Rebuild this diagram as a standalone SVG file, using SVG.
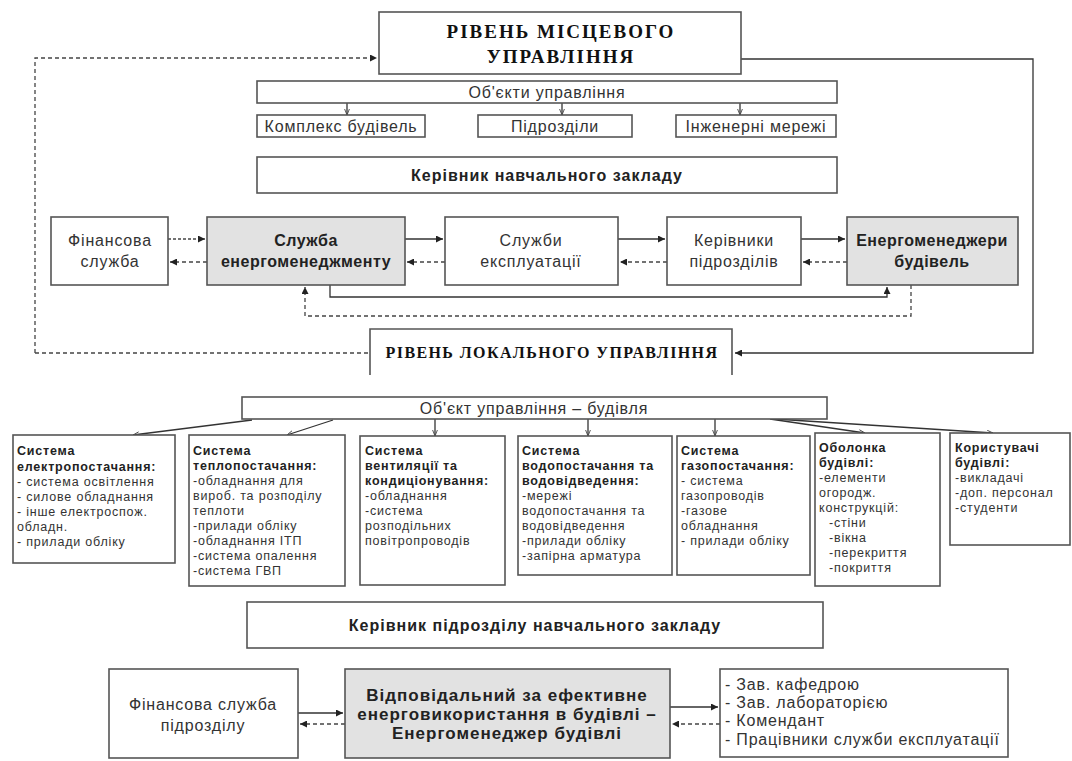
<svg xmlns="http://www.w3.org/2000/svg" width="1072" height="761" viewBox="0 0 1072 761">
<defs>
<marker id="ah" viewBox="0 0 10 10" refX="10" refY="5" markerWidth="9" markerHeight="7" markerUnits="userSpaceOnUse" orient="auto"><path d="M0,0 L10,5 L0,10 z" fill="#222"/></marker>
<marker id="as" viewBox="0 0 10 10" refX="10" refY="5" markerWidth="7" markerHeight="6" markerUnits="userSpaceOnUse" orient="auto"><path d="M0,1 L10,5 L0,9" fill="none" stroke="#444" stroke-width="1.5"/></marker>
<style>
rect{fill:#fff;stroke:#555;stroke-width:1.6}
rect.g{fill:#e2e2e2}
rect.bg{fill:#fff;stroke:none}
.ser{font-family:"Liberation Serif",serif;font-weight:bold;fill:#111}
.s{font-family:"Liberation Sans",Arial,sans-serif;fill:#333}
.b{font-weight:bold;fill:#222}
.c{text-anchor:middle}
.ln{fill:none;stroke:#333;stroke-width:1.3}
.dl{fill:none;stroke:#444;stroke-width:1.3;stroke-dasharray:4,3}
.t{font-size:16px;letter-spacing:0.8px}
.tb{font-size:16px;letter-spacing:1px;font-weight:bold;fill:#222}
.tm{font-size:16px;letter-spacing:0.5px;font-weight:bold;fill:#222}
.tl{font-size:17px;letter-spacing:1px;font-weight:bold;fill:#222}
.sys{font-size:12.5px;letter-spacing:0.8px}
</style>
</defs>
<rect class="bg" width="1072" height="761"/>

<g id="connectors">
<path class="dl" d="M35,353 L35,58 L377,58" marker-end="url(#ah)"/>
<path class="ln" d="M741,59 L1033,59 L1033,353 L735,353" marker-end="url(#ah)"/>
<path class="dl" d="M35,353 L370,353"/>
<path class="ln" stroke-width="1" d="M347,103 L347,115" marker-end="url(#as)"/>
<path class="ln" stroke-width="1" d="M562,103 L562,115" marker-end="url(#as)"/>
<path class="ln" stroke-width="1" d="M740,103 L740,115" marker-end="url(#as)"/>
<path class="dl" style="stroke-dasharray:3,2" d="M168,239 L205,239" marker-end="url(#ah)"/>
<path class="dl" d="M207,262 L170,262" marker-end="url(#ah)"/>
<path class="ln" d="M405,239 L443,239" marker-end="url(#ah)"/>
<path class="dl" d="M445,262 L407,262" marker-end="url(#ah)"/>
<path class="ln" d="M618,239 L665,239" marker-end="url(#ah)"/>
<path class="dl" d="M667,262 L620,262" marker-end="url(#ah)"/>
<path class="ln" d="M801,239 L845,239" marker-end="url(#ah)"/>
<path class="dl" d="M847,262 L803,262" marker-end="url(#ah)"/>
<path class="ln" d="M330,285 L330,297 L887,297 L887,287" marker-end="url(#ah)"/>
<path class="dl" d="M911,285 L911,316 L305,316 L305,287" marker-end="url(#ah)"/>
<path class="ln" stroke-width="1" d="M252,420 L133,435" marker-end="url(#as)"/>
<path class="ln" stroke-width="1" d="M333,420 L287,435" marker-end="url(#as)"/>
<path class="ln" stroke-width="1" d="M435,419 L435,436" marker-end="url(#as)"/>
<path class="ln" stroke-width="1" d="M588,419 L588,436" marker-end="url(#as)"/>
<path class="ln" stroke-width="1" d="M715,419 L715,436" marker-end="url(#as)"/>
<path class="ln" stroke-width="1" d="M770,419 L865,433" marker-end="url(#as)"/>
<path class="ln" stroke-width="1" d="M775,419 L993,433" marker-end="url(#as)"/>
<path class="ln" d="M298,713 L343,713" marker-end="url(#ah)"/>
<path class="dl" d="M345,724 L300,724" marker-end="url(#ah)"/>
<path class="ln" d="M670,707 L718,707" marker-end="url(#ah)"/>
<path class="dl" d="M720,724 L672,724" marker-end="url(#ah)"/>
</g>

<g id="n-local-level">
<rect x="379" y="12" width="362" height="62"/>
<text class="ser c" x="561" y="38" font-size="19" letter-spacing="2">РІВЕНЬ МІСЦЕВОГО</text>
<text class="ser c" x="561" y="63" font-size="19" letter-spacing="2">УПРАВЛІННЯ</text>
</g>
<g id="n-objects">
<rect x="257" y="81" width="580" height="22"/>
<text class="s t c" x="547" y="98">Об'єкти управління</text>
</g>
<g id="n-complex">
<rect x="257" y="115" width="168" height="22"/>
<text class="s t c" x="341" y="132">Комплекс будівель</text>
</g>
<g id="n-subdiv">
<rect x="478" y="115" width="154" height="22"/>
<text class="s t c" x="555" y="132">Підрозділи</text>
</g>
<g id="n-networks">
<rect x="676" y="115" width="160" height="22"/>
<text class="s t c" x="756" y="132">Інженерні мережі</text>
</g>
<g id="n-head">
<rect x="257" y="157" width="580" height="36"/>
<text class="s tb c" x="547" y="181">Керівник навчального закладу</text>
</g>

<g id="n-fin">
<rect x="51" y="217" width="117" height="68"/>
<text class="s t c" x="110" y="246">Фінансова</text>
<text class="s t c" x="110" y="267">служба</text>
</g>
<g id="n-energy-service">
<rect class="g" x="207" y="217" width="198" height="68"/>
<text class="s tm c" x="306" y="246">Служба</text>
<text class="s tm c" x="306" y="267">енергоменеджменту</text>
</g>
<g id="n-operation">
<rect x="445" y="217" width="173" height="68"/>
<text class="s t c" x="531" y="246">Служби</text>
<text class="s t c" x="531" y="267">експлуатації</text>
</g>
<g id="n-heads">
<rect x="667" y="217" width="134" height="68"/>
<text class="s t c" x="734" y="246">Керівники</text>
<text class="s t c" x="734" y="267">підрозділів</text>
</g>
<g id="n-managers">
<rect class="g" x="847" y="217" width="171" height="68"/>
<text class="s tm c" x="932" y="246">Енергоменеджери</text>
<text class="s tm c" x="932" y="267">будівель</text>
</g>

<g id="n-local">
<path d="M370,375 L370,329 L732,329 L732,375" fill="#fff" stroke="#555" stroke-width="1.6"/>
<text class="ser c" x="552" y="358" font-size="16" letter-spacing="1.4">РІВЕНЬ ЛОКАЛЬНОГО УПРАВЛІННЯ</text>
</g>

<g id="n-building">
<rect x="242" y="397" width="585" height="22"/>
<text class="s t c" x="534" y="414">Об'єкт управління – будівля</text>
</g>

<g id="n-sys1" class="s sys">
<rect x="13" y="435" width="162" height="128"/>
<text x="17" y="455" class="b">Система</text>
<text x="17" y="471" class="b">електропостачання:</text>
<text x="17" y="486">- система освітлення</text>
<text x="17" y="501">- силове обладнання</text>
<text x="17" y="516">- інше електроспож.</text>
<text x="17" y="531">обладн.</text>
<text x="17" y="546">- прилади обліку</text>
</g>
<g id="n-sys2" class="s sys">
<rect x="189" y="435" width="156" height="151"/>
<text x="193" y="455" class="b">Система</text>
<text x="193" y="470" class="b">теплопостачання:</text>
<text x="193" y="485">-обладнання для</text>
<text x="193" y="500">вироб. та розподілу</text>
<text x="193" y="515">теплоти</text>
<text x="193" y="530">-прилади обліку</text>
<text x="193" y="545">-обладнання ІТП</text>
<text x="193" y="560">-система опалення</text>
<text x="193" y="575">-система ГВП</text>
</g>
<g id="n-sys3" class="s sys">
<rect x="360" y="436" width="145" height="149"/>
<text x="365" y="455" class="b">Система</text>
<text x="365" y="470" class="b">вентиляції та</text>
<text x="365" y="485" class="b">кондиціонування:</text>
<text x="365" y="500">-обладнання</text>
<text x="365" y="515">-система</text>
<text x="365" y="530">розподільних</text>
<text x="365" y="545">повітропроводів</text>
</g>
<g id="n-sys4" class="s sys">
<rect x="518" y="436" width="154" height="139"/>
<text x="522" y="455" class="b">Система</text>
<text x="522" y="470" class="b">водопостачання та</text>
<text x="522" y="485" class="b">водовідведення:</text>
<text x="522" y="500">-мережі</text>
<text x="522" y="515">водопостачання та</text>
<text x="522" y="530">водовідведення</text>
<text x="522" y="545">-прилади обліку</text>
<text x="522" y="560">-запірна арматура</text>
</g>
<g id="n-sys5" class="s sys">
<rect x="677" y="436" width="133" height="139"/>
<text x="681" y="455" class="b">Система</text>
<text x="681" y="470" class="b">газопостачання:</text>
<text x="681" y="485">- система</text>
<text x="681" y="500">газопроводів</text>
<text x="681" y="515">-газове</text>
<text x="681" y="530">обладнання</text>
<text x="681" y="545">- прилади обліку</text>
</g>
<g id="n-sys6" class="s sys">
<rect x="815" y="433" width="125" height="153"/>
<text x="819" y="452" class="b">Оболонка</text>
<text x="819" y="467" class="b">будівлі:</text>
<text x="819" y="482">-елементи</text>
<text x="819" y="497">огородж.</text>
<text x="819" y="512">конструкцій:</text>
<text x="829" y="527">-стіни</text>
<text x="829" y="542">-вікна</text>
<text x="829" y="557">-перекриття</text>
<text x="829" y="572">-покриття</text>
</g>
<g id="n-sys7" class="s sys">
<rect x="950" y="433" width="120" height="112"/>
<text x="955" y="452" class="b">Користувачі</text>
<text x="955" y="467" class="b">будівлі:</text>
<text x="955" y="482">-викладачі</text>
<text x="955" y="497">-доп. персонал</text>
<text x="955" y="512">-студенти</text>
</g>

<g id="n-subhead">
<rect x="247" y="602" width="576" height="46"/>
<text class="s tb c" x="535" y="631">Керівник підрозділу навчального закладу</text>
</g>
<g id="n-subfin">
<rect x="109" y="669" width="189" height="89"/>
<text class="s t c" x="203" y="710" letter-spacing="0.4">Фінансова служба</text>
<text class="s t c" x="203" y="731" letter-spacing="0.4">підрозділу</text>
</g>
<g id="n-responsible">
<rect class="g" x="345" y="669" width="325" height="89"/>
<text class="s tl c" x="507" y="701">Відповідальний за ефективне</text>
<text class="s tl c" x="507" y="720">енерговикористання в будівлі –</text>
<text class="s tl c" x="507" y="739">Енергоменеджер будівлі</text>
</g>
<g id="n-staff">
<rect x="720" y="669" width="288" height="88"/>
<text class="s t" x="725" y="690" letter-spacing="1">- Зав. кафедрою</text>
<text class="s t" x="725" y="708" letter-spacing="1">- Зав. лабораторією</text>
<text class="s t" x="725" y="726" letter-spacing="1">- Комендант</text>
<text class="s t" x="725" y="745" letter-spacing="1">- Працівники служби експлуатації</text>
</g>
</svg>
